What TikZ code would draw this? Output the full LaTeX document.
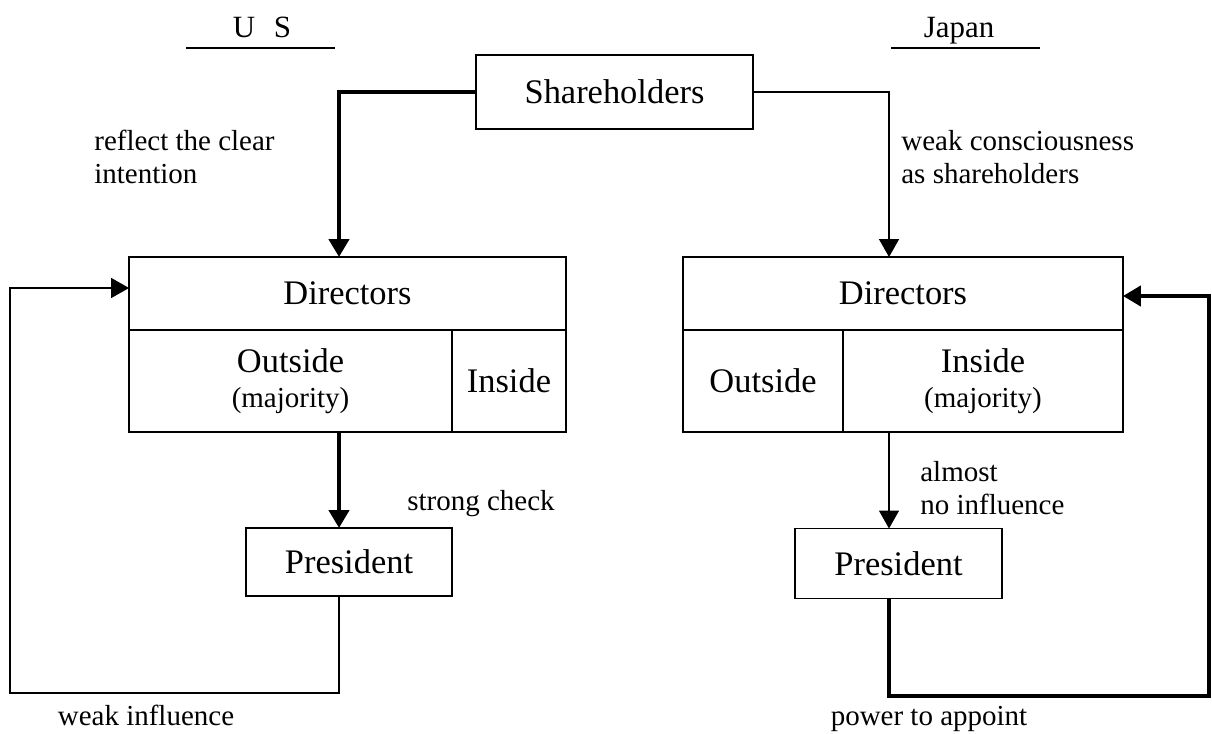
\documentclass[tikz,border=0pt]{standalone}
\usepackage{fontspec}
\setmainfont{Liberation Serif}
\usetikzlibrary{positioning,arrows.meta}

\newcommand{\boxfont}{\fontsize{19.6}{22}\selectfont}
\newcommand{\lblfont}{\fontsize{16.5}{18.7}\selectfont}
\newcommand{\titlefont}{\fontsize{17.6}{20}\selectfont}

\begin{document}
\begin{tikzpicture}[x=0.02cm, y=-0.02cm,
    cell/.style={draw, line width=0.9pt, inner sep=0pt, outer sep=0pt, align=center, font=\boxfont},
    note/.style={inner sep=0pt, align=left, font=\lblfont},
    weak/.style={line width=0.85pt, -{Triangle[length=0.36cm,width=0.4cm]}},
    strong/.style={line width=2.5pt, -{Triangle[length=0.36cm,width=0.4cm]}}
]
    \useasboundingbox (0,0) rectangle (1212,733);

    \node[font=\titlefont, anchor=base] (ustitle) at (262,38) {U\hspace{0.6em}S};
    \node[font=\titlefont, anchor=base] (jptitle) at (959,38) {Japan};
    \draw[line width=1.2pt] (186,48) -- (335,48);
    \draw[line width=1.2pt] (891,48) -- (1040,48);

    \node[cell, minimum width=5.54cm, minimum height=1.48cm] (holders) at (614.5,92) {Shareholders};

    % US
    \node[cell, minimum width=8.74cm, minimum height=1.46cm] (usdir) at (347.5,293.5) {Directors};
    \node[cell, minimum width=6.46cm, minimum height=2.04cm, below right=0cm and 0cm of usdir.south west] (usout) {Outside\\[-2pt]{\lblfont (majority)}};
    \node[cell, minimum width=2.28cm, minimum height=2.04cm, right=0cm of usout] (usin) {Inside};
    \node[cell, minimum width=4.12cm, minimum height=1.36cm] (uspres) at (349,562) {President};

    % Japan
    \node[cell, minimum width=8.8cm, minimum height=1.46cm] (jpdir) at (903,293.5) {Directors};
    \node[cell, minimum width=3.2cm, minimum height=2.04cm, below right=0cm and 0cm of jpdir.south west] (jpout) {Outside};
    \node[cell, minimum width=5.6cm, minimum height=2.04cm, right=0cm of jpout] (jpin) {Inside\\[-2pt]{\lblfont (majority)}};
    \node[cell, minimum width=4.14cm, minimum height=1.4cm] (jppres) at (898.5,563.5) {President};

    \coordinate (usx) at (339,0);
    \coordinate (jpx) at (889,0);
    \coordinate (usbot) at (10,693);
    \coordinate (usback) at (10,288);
    \coordinate (jpbot) at (1209,696);
    \coordinate (jpback) at (1209,296);

    \draw[strong] (holders.west) -| (usx |- usdir.north);
    \draw[weak] (holders.east) -| (jpx |- jpdir.north);
    \draw[strong] (usx |- usout.south) -- (usx |- uspres.north);
    \draw[weak] (jpx |- jpin.south) -- (jpx |- jppres.north);
    \draw[weak] (usx |- uspres.south) |- (usbot) -- (usback) -- (usback -| usdir.west);
    \draw[strong] (jpx |- jppres.south) |- (jpbot) -- (jpback) -- (jpback -| jpdir.east);

    \node[note, anchor=west] (reflect) at (94,157) {reflect the clear\\intention};
    \node[note, anchor=west] (conscious) at (901,157) {weak consciousness\\as shareholders};
    \node[note, anchor=west] (check) at (407,504) {strong check};
    \node[note, anchor=west] (almost) at (920,488) {almost\\no influence};
    \node[note, anchor=base] (weakinf) at (146,725) {weak influence};
    \node[note, anchor=base] (appoint) at (929,725) {power to appoint};
\end{tikzpicture}
\end{document}
